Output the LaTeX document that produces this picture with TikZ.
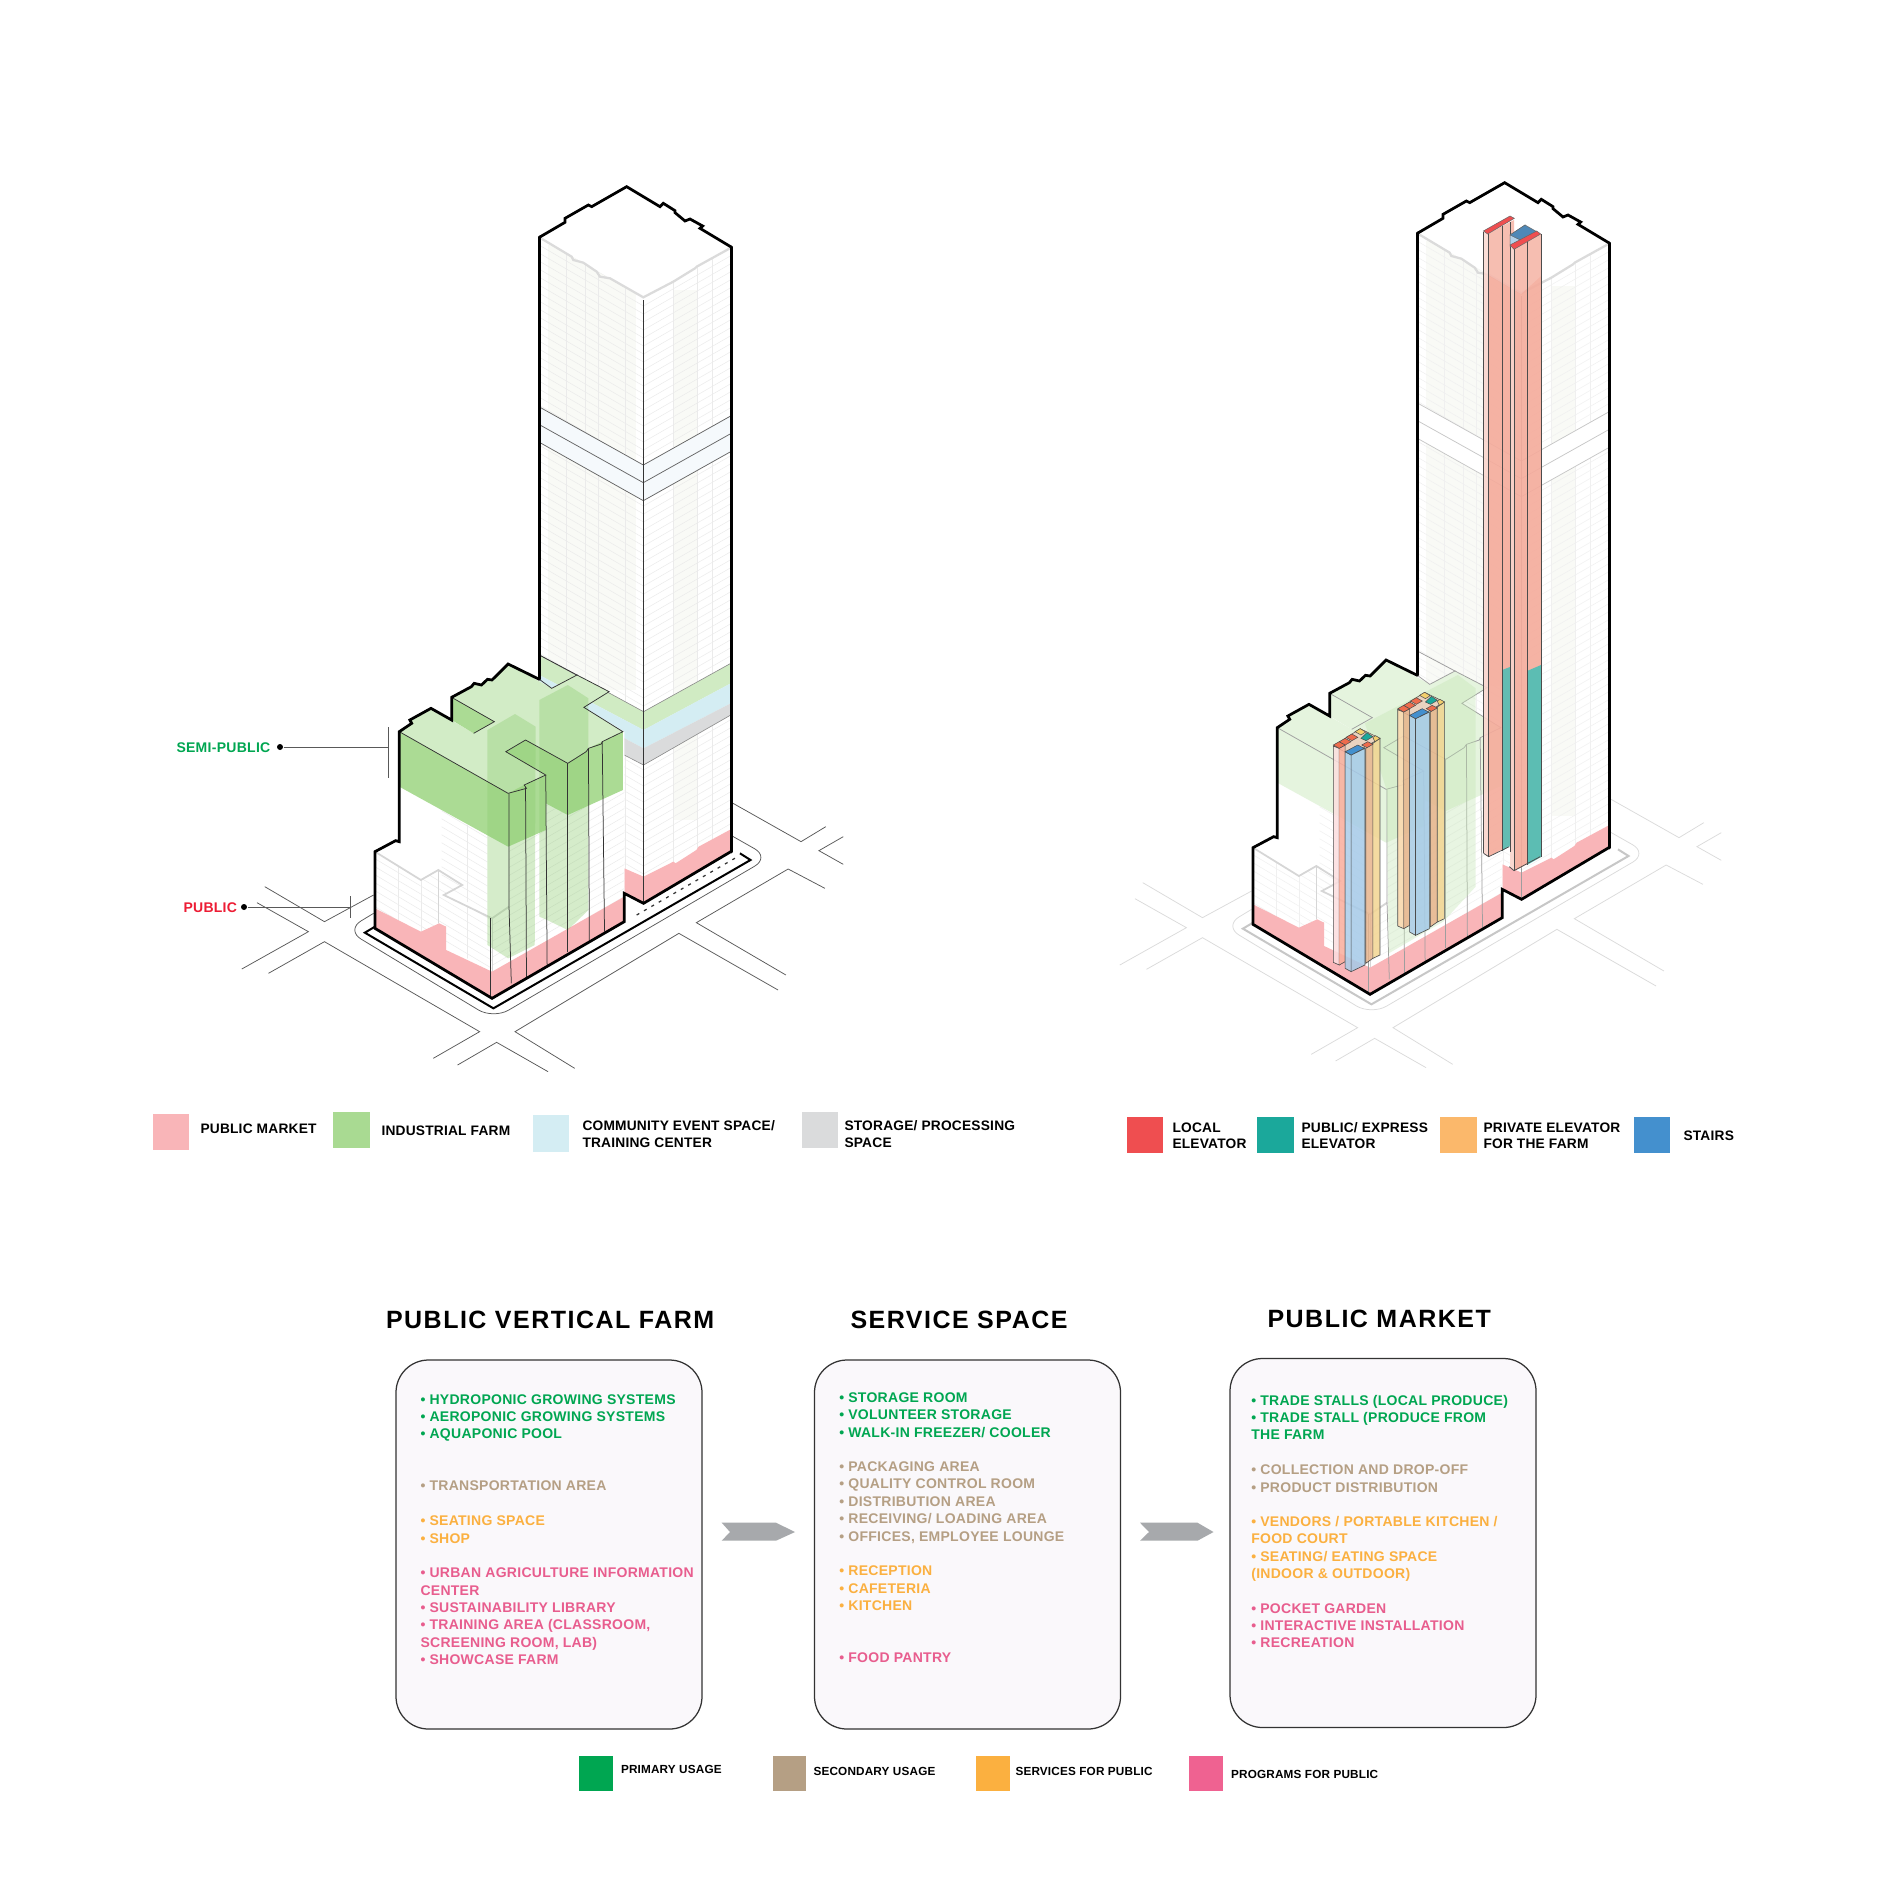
\documentclass[tikz,border=0pt]{standalone}
\usepackage{fontspec}
\setmainfont{Liberation Sans}
\newfontfamily\fTitle[LetterSpace=6]{Liberation Sans Bold}
\newfontfamily\fBody[LetterSpace=2]{Liberation Sans Bold}
\newfontfamily\fLeg[LetterSpace=1.5]{Liberation Sans Bold}
\definecolor{swPink}{HTML}{F9B5B8}
\definecolor{swGreen}{HTML}{A9DA92}
\definecolor{swCyan}{HTML}{D4EDF3}
\definecolor{swGray}{HTML}{DADBDC}
\definecolor{swRed}{HTML}{EF4E50}
\definecolor{swTeal}{HTML}{1BA89B}
\definecolor{swOrange}{HTML}{FBB86B}
\definecolor{swBlue}{HTML}{4490CE}
\definecolor{usePrim}{HTML}{00A651}
\definecolor{useSec}{HTML}{B59F84}
\definecolor{useServ}{HTML}{FBB040}
\definecolor{useProg}{HTML}{EF6291}
\definecolor{txPink}{HTML}{E85D8E}
\newcount\lcnt
\newcommand\bodyline[4]{\global\advance\lcnt by 1
  \node[bodytxt,text=#1] (line\the\lcnt) at (#2,#3+5) {#4};}
\tikzset{
  z1/.style={shift={(150,620)},xscale=1/2.178,yscale=1/3},
  z2/.style={shift={(1100,620)},xscale=1/2.529,yscale=1/3},
  z3/.style={shift={(500,160)},scale=1/3},
  z4/.style={shift={(1400,160)},scale=1/3},
  streetline/.style={draw=cStreet,line width=.3pt},
  edgeline/.style={draw=cEdge,line width=.3pt},
  hatchline/.style={draw=cHatch,line width=.2pt},
  thick outline/.style={draw=black,line width=1.1pt,line join=miter,line cap=round},
  bodytxt/.style={anchor=base west,inner sep=0pt,font=\fBody\fontsize{5.6pt}{6pt}\selectfont},
  titletxt/.style={anchor=base west,inner sep=0pt,text=black,font=\fTitle\fontsize{10pt}{11pt}\selectfont},
  legtxt/.style={anchor=base west,inner sep=0pt,text=black,align=left,font=\fLeg\fontsize{5.5pt}{6.9pt}\selectfont},
  usetxt/.style={anchor=base west,inner sep=0pt,text=black,font=\fLeg\fontsize{4.7pt}{6pt}\selectfont},
  tagtxt/.style={anchor=base west,inner sep=0pt,font=\fBody\fontsize{5.6pt}{6pt}\selectfont},
  cardbox/.style={draw=black!80,line width=.5pt,fill=cardBg,rounded corners=13pt,minimum width=122.4pt,minimum height=147.6pt,inner sep=0pt},
  blackdot/.style={circle,fill=black,inner sep=0pt,minimum size=2.4pt},
  leader/.style={draw=black!65,line width=.4pt},
  chevron/.style={fill=chevGray},
  colline/.style={draw=black!70,line width=.25pt},
  capline/.style={draw=black!70,line width=.2pt},
}
\definecolor{cardBg}{HTML}{FAF8FB}
\definecolor{chevGray}{HTML}{A7A9AC}
\newcommand\bldgStreets{
  \begin{scope}[z1]
    \draw[streetline] (250,800)--(380,905)--(487,825);
    \draw[streetline] (233,848)--(345,935)--(200,1047);
    \draw[streetline] (258,1060)--(380,965)--(718,1235)--(617,1315);
    \draw[streetline] (670,1335)--(755,1267)--(867,1355);
    \draw[streetline] (925,1345)--(795,1235)--(1152,940)--(1368,1110);
    \draw[streetline] (1385,1065)--(1190,908)--(1390,747)--(1470,805);
    \draw[streetline] (1270,550)--(1418,665)--(1472,620);
    \draw[streetline] (1510,650)--(1457,692)--(1510,733);
    \draw[streetline,rounded corners=7pt] (487,880)--(427,930)--(748,1197)--(1350,712)--(1268,648);
    \draw[draw=cSite,line width=.8pt] (490,920)--(468,938)--(748,1165)--(1308,720)--(1285,700);
  \end{scope}}
\newcommand\bldgTower{
  \fill[white] (539,237)--(627,187)--(732,247)--(732,852)--(643.5,903)--(539,843)--cycle;
  \fill[stripeC] (548,245) rectangle (636,690);
  \fill[stripeC] (673,290) rectangle (697,820);
  \begin{scope}
    \clip (539,237)--(643.5,298)--(643.5,903)--(539,843)--cycle;
    \foreach \i in {0,...,80} {\draw[hatchline] (539,237+8*\i)--++(104.5,61);}
    \foreach \x in {566,585,598,625} {\draw[hatchline] (\x,230)--(\x,1010);}
  \end{scope}
  \begin{scope}
    \clip (643.5,298)--(732,247)--(732,852)--(643.5,903)--cycle;
    \foreach \i in {0,...,80} {\draw[hatchline] (643.5,298+8*\i)--++(88.5,-51);}
    \foreach \x in {673,697,712} {\draw[hatchline] (\x,230)--(\x,1010);}
  \end{scope}
  \begin{scope}[z3]
    \fill[white] (118,232)--(195,187)--(380,80)--(695,262)--(430,412)--cycle;
    \fill[bandC,draw=none] (120,742)--(430,915)--(692,768)--(692,875)--(430,1022)--(120,848)--cycle;
    \draw[draw=cBandLine,line width=.3pt] (120,742)--(430,915)--(692,768);
    \draw[draw=cBandLine,line width=.3pt] (120,795)--(430,968)--(692,821);
    \draw[draw=cBandLine,line width=.3pt] (120,848)--(430,1022)--(692,875);
    \draw[draw=black!14,line width=.9pt] (118,232)--(215,290)--(220,300)--(250,308)--(290,335)--(300,350)--(330,355)--(430,412)--(520,365)--(585,325)--(590,320)--(695,262);
    \draw[thick outline] (118,232)--(195,187)--(195,175)--(265,135)--(275,140)--(380,80)--(480,140)--(490,130)--(525,152)--(525,158)--(555,183)--(570,177)--(608,198)--(600,205)--(695,262);
  \end{scope}
}
\newcommand\bldgTowerPink{
  \begin{scope}[z1]
    \fill[swPink] (1033,745)--(1075,770)--(1140,725)--(1145,730)--(1190,690)--(1195,680)--(1265,628)--(1265,695)--(1075,850)--(1033,820)--cycle;
    \draw[edgeline] (1075,-960)--(1075,850);
  \end{scope}
}
\newcommand\bldgPodium{
  \begin{scope}[z1]
    \fill[white] (490,925)--(490,695)--(535,662)--(543,665)--(543,335)--(570,310)--(566,300)--(612,265)--(657,300)--(657,232)--(700,200)--(706,190)--(722,195)--(735,178)--(745,180)--(780,132)--(875,205)--(930,165)--(1000,215)--(945,262)--(1033,335)--(1033,905)--(745,1135)--cycle;
    \begin{scope}
      \clip (490,695)--(590,780)--(628,750)--(680,795)--(640,825)--(745,895)--(745,1055)--(490,865)--cycle;
      \foreach \i in {0,...,25} {\draw[hatchline] (480,660+24*\i)--++(300,246);}
      \foreach \x in {540,590,628,690} {\draw[hatchline] (\x,690)--(\x,1060);}
    \end{scope}
    \begin{scope}
      \clip (635,570)--(735,650)--(735,880)--(635,800)--cycle;
      \foreach \i in {0,...,25} {\draw[hatchline] (630,520+24*\i)--++(110,90);}
      \draw[hatchline] (690,600)--(690,850);
    \end{scope}
    \begin{scope}
      \clip (745,895)--(782,860)--(782,680)--(862,630)--(862,545)--(910,585)--(1033,510)--(1033,830)--(745,1055)--cycle;
      \foreach \i in {0,...,36} {\draw[hatchline] (740,560+24*\i)--++(300,-240);}
    \end{scope}
    \draw[draw=black!16,line width=.7pt] (490,695)--(590,780)--(628,750)--(680,795)--(640,825)--(745,895)--(782,860);
    \draw[draw=black!16,line width=.3pt] (628,750)--(628,910) (745,895)--(745,1055);
    \fill[swPink] (490,865)--(590,935)--(630,910)--(645,920)--(645,990)--(745,1055)--(1033,830)--(1033,905)--(745,1135)--(490,925)--cycle;
    \fill[cRoof] (543,335)--(570,310)--(566,300)--(612,265)--(705,340)--(750,305)--(657,232)--(700,200)--(706,190)--(722,195)--(735,178)--(745,180)--(780,132)--(875,205)--(930,165)--(1000,215)--(945,262)--(1030,335)--(985,365)--(983,372)--(955,385)--(950,395)--(910,430)--(818,360)--(775,395)--(862,465)--(815,495)--(820,505)--(780,520)--cycle;
    \fill[cBand] (657,232)--(750,305)--(705,340)--(657,300)--cycle;
    \fill[cBand] (543,335)--(780,520)--(780,680)--(543,500)--cycle;
    \fill[cBand] (780,520)--(815,495)--(862,465)--(862,630)--(780,680)--cycle;
    \fill[cBand] (775,395)--(818,360)--(910,430)--(910,585)--(862,550)--(862,465)--cycle;
    \fill[cBand] (910,430)--(950,395)--(955,385)--(985,365)--(1030,335)--(1030,510)--(910,585)--cycle;
  \end{scope}
}
\newcommand\bldgPodiumLines{
  \begin{scope}[z1]
    \draw[edgeline] (705,340)--(750,305)--(657,232);
    \draw[edgeline] (848,178)--(875,205)--(930,165)--(848,105);
    \draw[edgeline] (930,165)--(1000,215)--(945,262)--(1030,335)--(985,365)--(983,372)--(955,385)--(950,395)--(910,430)--(818,360)--(775,395)--(862,465)--(815,495)--(820,505)--(780,520)--(543,335);
    \draw[edgeline] (782,520)--(782,860)--(787,1090);
    \draw[edgeline] (818,500)--(820,1075);
    \draw[edgeline] (862,465)--(865,1035);
    \draw[edgeline] (910,430)--(910,995);
    \draw[edgeline] (955,385)--(957,960);
    \draw[edgeline] (985,365)--(990,935);
    \draw[edgeline] (742,895)--(742,1135);
  \end{scope}
}
\newcommand\bldgOutline{
  \begin{scope}[z1]
    \draw[thick outline] (848,178)--(780,132)--(745,180)--(735,178)--(722,195)--(706,190)--(700,200)--(657,232)--(657,300)--(612,265)--(566,300)--(570,310)--(543,335)--(543,665)--(535,662)--(490,695)--(490,925)--(745,1135)--(1033,905)--(1033,820)--(1075,850)--(1265,695);
  \end{scope}
  \draw[thick outline] (539.3,237)--(539.3,679);
  \draw[thick outline] (731.7,247)--(731.7,852);
}
\newcommand\elevGroup[2]{
  \filldraw[fill=capBack,capline] (590,378)--(658,326)--(708,355)--(635,405)--cycle;
  \fill[#1,fill opacity=.85] (590,378)--(605,385)--(605,1035)--(590,1027)--cycle;
  \draw[colline] (590,378)--(605,385)--(605,1035)--(590,1027)--cycle;
  \fill[#2,fill opacity=.85] (605,385)--(620,375)--(620,1025)--(605,1035)--cycle;
  \draw[colline] (605,385)--(620,375)--(620,1025)--(605,1035);
  \fill[swBlue!45,fill opacity=.85] (620,395)--(635,405)--(635,1055)--(620,1045)--cycle;
  \fill[swBlue!48,fill opacity=.85] (635,405)--(670,385)--(670,1035)--(635,1055)--cycle;
  \draw[colline] (620,395)--(635,405)--(635,1055)--(620,1045)--cycle;
  \draw[colline] (635,405)--(670,385)--(670,1035)--(635,1055);
  \fill[elevOr,fill opacity=.85] (672,385)--(690,370)--(690,1015)--(672,1030)--cycle;
  \fill[elevYe,fill opacity=.85] (690,370)--(708,355)--(708,1005)--(690,1015)--cycle;
  \draw[colline] (672,385)--(690,370)--(690,1015)--(672,1030)--cycle;
  \draw[colline] (690,370)--(708,355)--(708,1005)--(690,1015);
  \filldraw[fill=capRed,capline] (590,375)--(605,365)--(620,375)--(605,385)--cycle;
  \filldraw[fill=capRed,capline] (605,365)--(620,355)--(635,365)--(620,375)--cycle;
  \filldraw[fill=capRed,capline] (622,352)--(637,342)--(652,352)--(637,362)--cycle;
  \filldraw[fill=capYel,capline] (645,335)--(658,326)--(672,336)--(660,345)--cycle;
  \filldraw[fill=swTeal,capline] (660,355)--(675,338)--(690,350)--(673,362)--cycle;
  \filldraw[fill=capYel,capline] (690,352)--(697,347)--(708,355)--(695,365)--cycle;
  \filldraw[fill=capRed,capline] (662,375)--(677,365)--(690,373)--(675,383)--cycle;
  \filldraw[fill=swBlue,capline] (620,395)--(652,375)--(668,385)--(635,405)--cycle;
}
\definecolor{capRed}{HTML}{EE6C4D}
\definecolor{capYel}{HTML}{F3CF6C}
\definecolor{capBack}{HTML}{E9D3C0}
\definecolor{salmon}{HTML}{F5AB9B}
\definecolor{elevOr}{HTML}{E8B48C}
\definecolor{elevYe}{HTML}{F3D591}
\definecolor{tStripe}{HTML}{F9FAF6}
\definecolor{tBand}{HTML}{F5F9FC}
\definecolor{tBarA}{HTML}{8BCB6E}
\definecolor{tPub}{HTML}{ED1C34}
\begin{document}
\begin{tikzpicture}[x=.4pt,y=-.4pt]
\useasboundingbox (0,0) rectangle (1885,1886);
\fill[white] (0,0) rectangle (1885,1886);
% ---------- Building A ----------
\begin{scope}
  \colorlet{cStreet}{black!65}\colorlet{cSite}{black}\colorlet{cEdge}{black!80}
  \colorlet{cHatch}{black!8}\colorlet{stripeC}{tStripe}\colorlet{bandC}{tBand}
  \colorlet{cBandLine}{black!60}\colorlet{cRoof}{swGreen!52!white}\colorlet{cBand}{swGreen!98!white}
  \bldgStreets
  \begin{scope}[z1]
    \draw[black!80,line width=.5pt,dash pattern=on 1.2pt off 2.2pt] (1060,885)--(1280,710);
  \end{scope}
  \bldgTower
  \begin{scope}[z1]
    \fill[swGreen!55!white] (848,105)--(1075,275)--(1265,130)--(1265,190)--(1075,330)--(848,165)--cycle;
    \fill[swCyan] (848,165)--(1075,330)--(1265,190)--(1265,250)--(1075,385)--(848,220)--cycle;
    \fill[swGray] (848,220)--(1075,385)--(1265,250)--(1265,285)--(1075,435)--(848,265)--cycle;
    \draw[draw=black!45,line width=.25pt] (848,105)--(1075,275)--(1265,130);
    \draw[draw=black!45,line width=.25pt] (1033,405)--(1075,435)--(1265,285);
  \end{scope}
  \bldgTowerPink
  \bldgPodium
  \begin{scope}[z1]
    \fill[tBarA,fill opacity=.36] (735,330)--(795,282)--(840,320)--(838,975)--(780,1015)--(735,975)--cycle;
    \fill[tBarA,fill opacity=.36] (848,240)--(910,195)--(955,235)--(955,870)--(910,930)--(865,900)--(848,890)--cycle;
  \end{scope}
  \bldgPodiumLines
  \bldgOutline
\end{scope}
% ---------- Building B ----------
\begin{scope}[shift={(878,-4)}]
  \colorlet{cStreet}{black!14}\colorlet{cSite}{black!22}\colorlet{cEdge}{black!38}
  \colorlet{cHatch}{black!6}\colorlet{stripeC}{tStripe}\colorlet{bandC}{white}
  \colorlet{cBandLine}{black!22}\colorlet{cRoof}{swGreen!30!white}\colorlet{cBand}{swGreen!30!white}
  \bldgStreets
  \bldgTower
  \bldgTowerPink
  \bldgPodium
  \bldgPodiumLines
  \bldgOutline
\end{scope}
% green volume of building B
\begin{scope}[z2]
  \fill[swGreen!70!white,fill opacity=.38] (670,310)--(905,165)--(950,205)--(950,800)--(868,905)--(730,1000)--(725,510)--cycle;
\end{scope}
% short elevator groups
\begin{scope}[z2]
  \elevGroup{swPink!45!white}{swPink!85!orange}
  \begin{scope}[shift={(163,-109)}]
    \elevGroup{swOrange!55!white}{elevOr}
  \end{scope}
\end{scope}
% tall elevator group
\fill[salmon!50!white,fill opacity=.9] (1483.5,232)--(1488,234)--(1488,857)--(1483.5,853)--cycle;
\fill[salmon,fill opacity=.9] (1488,234)--(1510,222)--(1510,845)--(1488,857)--cycle;
\fill[salmon,fill opacity=.9] (1510,222)--(1514,220)--(1514,850)--(1510,852)--cycle;
\fill[swTeal!75!white,fill opacity=.9] (1502,670)--(1510,667)--(1510,846)--(1502,851)--cycle;
\fill[salmon!50!white,fill opacity=.9] (1510,246)--(1514,249)--(1514,871)--(1510,867)--cycle;
\fill[salmon,fill opacity=.9] (1514,249)--(1541,234)--(1541,857)--(1514,871)--cycle;
\fill[swTeal!75!white,fill opacity=.95] (1527,671)--(1541,665)--(1541,857)--(1527,865)--cycle;
\fill[white,fill opacity=.15] (1483.5,232)--(1514,216)--(1541,234)--(1541,276)--(1521,294)--(1483.5,272)--cycle;
\foreach \xa/\ya/\xb/\yb in {1483.5/232/1483.5/853,1488/234/1488/857,1502/226/1502/851,1510/222/1510/852,1514/249/1514/871,1527/241/1527/865,1541/234/1541/857}
  {\draw[black!70,line width=.3pt] (\xa,\ya)--(\xb,\yb);}
\begin{scope}[z4]
  \filldraw[fill=swBlue!40!white,draw=black!60,line width=.2pt] (330,225)--(375,195)--(375,235)--(330,260)--cycle;
  \filldraw[fill=swBlue!85!black!90,draw=black!60,line width=.2pt] (330,225)--(375,195)--(410,215)--(365,242)--cycle;
  \filldraw[fill=swRed,draw=black!60,line width=.2pt] (250,213)--(330,168)--(343,175)--(263,222)--cycle;
  \filldraw[fill=swRed,draw=black!60,line width=.2pt] (330,255)--(410,213)--(422,222)--(342,268)--cycle;
\end{scope}
\begin{scope}[z2]
  \draw[black!70,line width=.3pt] (970,700)--(983,710)--(1035,680);
  \draw[black!70,line width=.3pt] (1035,740)--(1047,752)--(1113,710);
\end{scope}
% ---------- tags ----------
\node[tagtxt,text=usePrim] (tagsemi) at (176,752) {SEMI-PUBLIC};
\node[blackdot] (dotsemi) at (280,747) {};
\coordinate (endsemi) at (388,747);
\draw[leader] (dotsemi)--(endsemi);
\draw[leader] (388,727)--(388,778);
\node[tagtxt,text=tPub] (tagpub) at (183,912) {PUBLIC};
\node[blackdot] (dotpub) at (244,907) {};
\coordinate (endpub) at (350.6,907);
\draw[leader] (dotpub)--(endpub);
\draw[leader] (350.6,896)--(350.6,918);
% ---------- legend 1 ----------
\fill[swPink] (152.6,1114) rectangle (188.8,1150);
\fill[swGreen] (333,1112) rectangle (369.6,1148);
\fill[swCyan] (533,1115) rectangle (569,1152);
\fill[swGray] (802,1112) rectangle (838,1148);
\node[legtxt] (la) at (200,1133) {PUBLIC MARKET};
\node[legtxt] (lb) at (381,1135) {INDUSTRIAL FARM};
\node[legtxt] (lc) at (582,1130) {COMMUNITY EVENT SPACE/};
\node[legtxt] (ld) at (582,1147) {TRAINING CENTER};
\node[legtxt] (le) at (844,1130) {STORAGE/ PROCESSING};
\node[legtxt] (lf) at (844,1147) {SPACE};
% ---------- legend 2 ----------
\fill[swRed] (1126.6,1117) rectangle (1163,1153);
\fill[swTeal] (1257,1117) rectangle (1294,1153);
\fill[swOrange] (1440,1117) rectangle (1476.5,1153);
\fill[swBlue] (1633.6,1117) rectangle (1670,1153);
\node[legtxt] (lg) at (1172,1132) {LOCAL};
\node[legtxt] (lh) at (1172,1148) {ELEVATOR};
\node[legtxt] (li) at (1301,1132) {PUBLIC/ EXPRESS};
\node[legtxt] (lj) at (1301,1148) {ELEVATOR};
\node[legtxt] (lk) at (1483,1132) {PRIVATE ELEVATOR};
\node[legtxt] (ll) at (1483,1148) {FOR THE FARM};
\node[legtxt] (lm) at (1683,1140) {STAIRS};
% ---------- titles ----------
\node[titletxt] (t1) at (385.5,1328) {PUBLIC VERTICAL FARM};
\node[titletxt] (t2) at (850,1328) {SERVICE SPACE};
\node[titletxt] (t3) at (1267,1327) {PUBLIC MARKET};
% ---------- cards ----------
\node[cardbox] (card1) at (549,1544.5) {};
\node[cardbox] (card2) at (967.5,1544.5) {};
\node[cardbox] (card3) at (1383,1543) {};
\fill[chevron] (721.7,1522.7)--(776,1522.7)--(795,1532)--(776,1540.7)--(721.7,1540.7)--(730,1532)--cycle;
\fill[chevron] (1140,1522.7)--(1197.5,1522.7)--(1213.5,1532)--(1197.5,1540.7)--(1140,1540.7)--(1149,1532)--cycle;
% card 1
\bodyline{usePrim}{420}{1399}{• HYDROPONIC GROWING SYSTEMS}
\bodyline{usePrim}{420}{1416.7}{• AEROPONIC GROWING SYSTEMS}
\bodyline{usePrim}{420}{1433.7}{• AQUAPONIC POOL}
\bodyline{useSec}{420}{1485.7}{• TRANSPORTATION AREA}
\bodyline{useServ}{420}{1520}{• SEATING SPACE}
\bodyline{useServ}{420}{1538}{• SHOP}
\bodyline{txPink}{420}{1572}{• URBAN AGRICULTURE INFORMATION}
\bodyline{txPink}{420}{1590}{CENTER}
\bodyline{txPink}{420}{1607}{• SUSTAINABILITY LIBRARY}
\bodyline{txPink}{420}{1624}{• TRAINING AREA (CLASSROOM,}
\bodyline{txPink}{420}{1642}{SCREENING ROOM, LAB)}
\bodyline{txPink}{420}{1659}{• SHOWCASE FARM}
% card 2
\bodyline{usePrim}{838.8}{1397}{• STORAGE ROOM}
\bodyline{usePrim}{838.8}{1414}{• VOLUNTEER STORAGE}
\bodyline{usePrim}{838.8}{1432}{• WALK-IN FREEZER/ COOLER}
\bodyline{useSec}{838.8}{1466}{• PACKAGING AREA}
\bodyline{useSec}{838.8}{1483}{• QUALITY CONTROL ROOM}
\bodyline{useSec}{838.8}{1501}{• DISTRIBUTION AREA}
\bodyline{useSec}{838.8}{1518}{• RECEIVING/ LOADING AREA}
\bodyline{useSec}{838.8}{1536}{• OFFICES, EMPLOYEE LOUNGE}
\bodyline{useServ}{838.8}{1570}{• RECEPTION}
\bodyline{useServ}{838.8}{1588}{• CAFETERIA}
\bodyline{useServ}{838.8}{1605}{• KITCHEN}
\bodyline{txPink}{838.8}{1657}{• FOOD PANTRY}
% card 3
\bodyline{usePrim}{1250.8}{1400}{• TRADE STALLS (LOCAL PRODUCE)}
\bodyline{usePrim}{1250.8}{1417}{• TRADE STALL (PRODUCE FROM}
\bodyline{usePrim}{1250.8}{1434}{THE FARM}
\bodyline{useSec}{1250.8}{1469}{• COLLECTION AND DROP-OFF}
\bodyline{useSec}{1250.8}{1487}{• PRODUCT DISTRIBUTION}
\bodyline{useServ}{1250.8}{1521}{• VENDORS / PORTABLE KITCHEN /}
\bodyline{useServ}{1250.8}{1538}{FOOD COURT}
\bodyline{useServ}{1250.8}{1556}{• SEATING/ EATING SPACE}
\bodyline{useServ}{1250.8}{1573}{(INDOOR \& OUTDOOR)}
\bodyline{txPink}{1250.8}{1608}{• POCKET GARDEN}
\bodyline{txPink}{1250.8}{1625}{• INTERACTIVE INSTALLATION}
\bodyline{txPink}{1250.8}{1642}{• RECREATION}
% ---------- legend 3 ----------
\fill[usePrim] (578.7,1756) rectangle (613,1791);
\fill[useSec] (772.6,1756) rectangle (806,1791);
\fill[useServ] (976,1756) rectangle (1010,1791);
\fill[useProg] (1189,1756) rectangle (1223,1791);
\node[usetxt] (ua) at (620.5,1773) {PRIMARY USAGE};
\node[usetxt] (ub) at (813,1775) {SECONDARY USAGE};
\node[usetxt] (uc) at (1015,1775) {SERVICES FOR PUBLIC};
\node[usetxt] (ud) at (1230.6,1778) {PROGRAMS FOR PUBLIC};
\end{tikzpicture}
\end{document}
